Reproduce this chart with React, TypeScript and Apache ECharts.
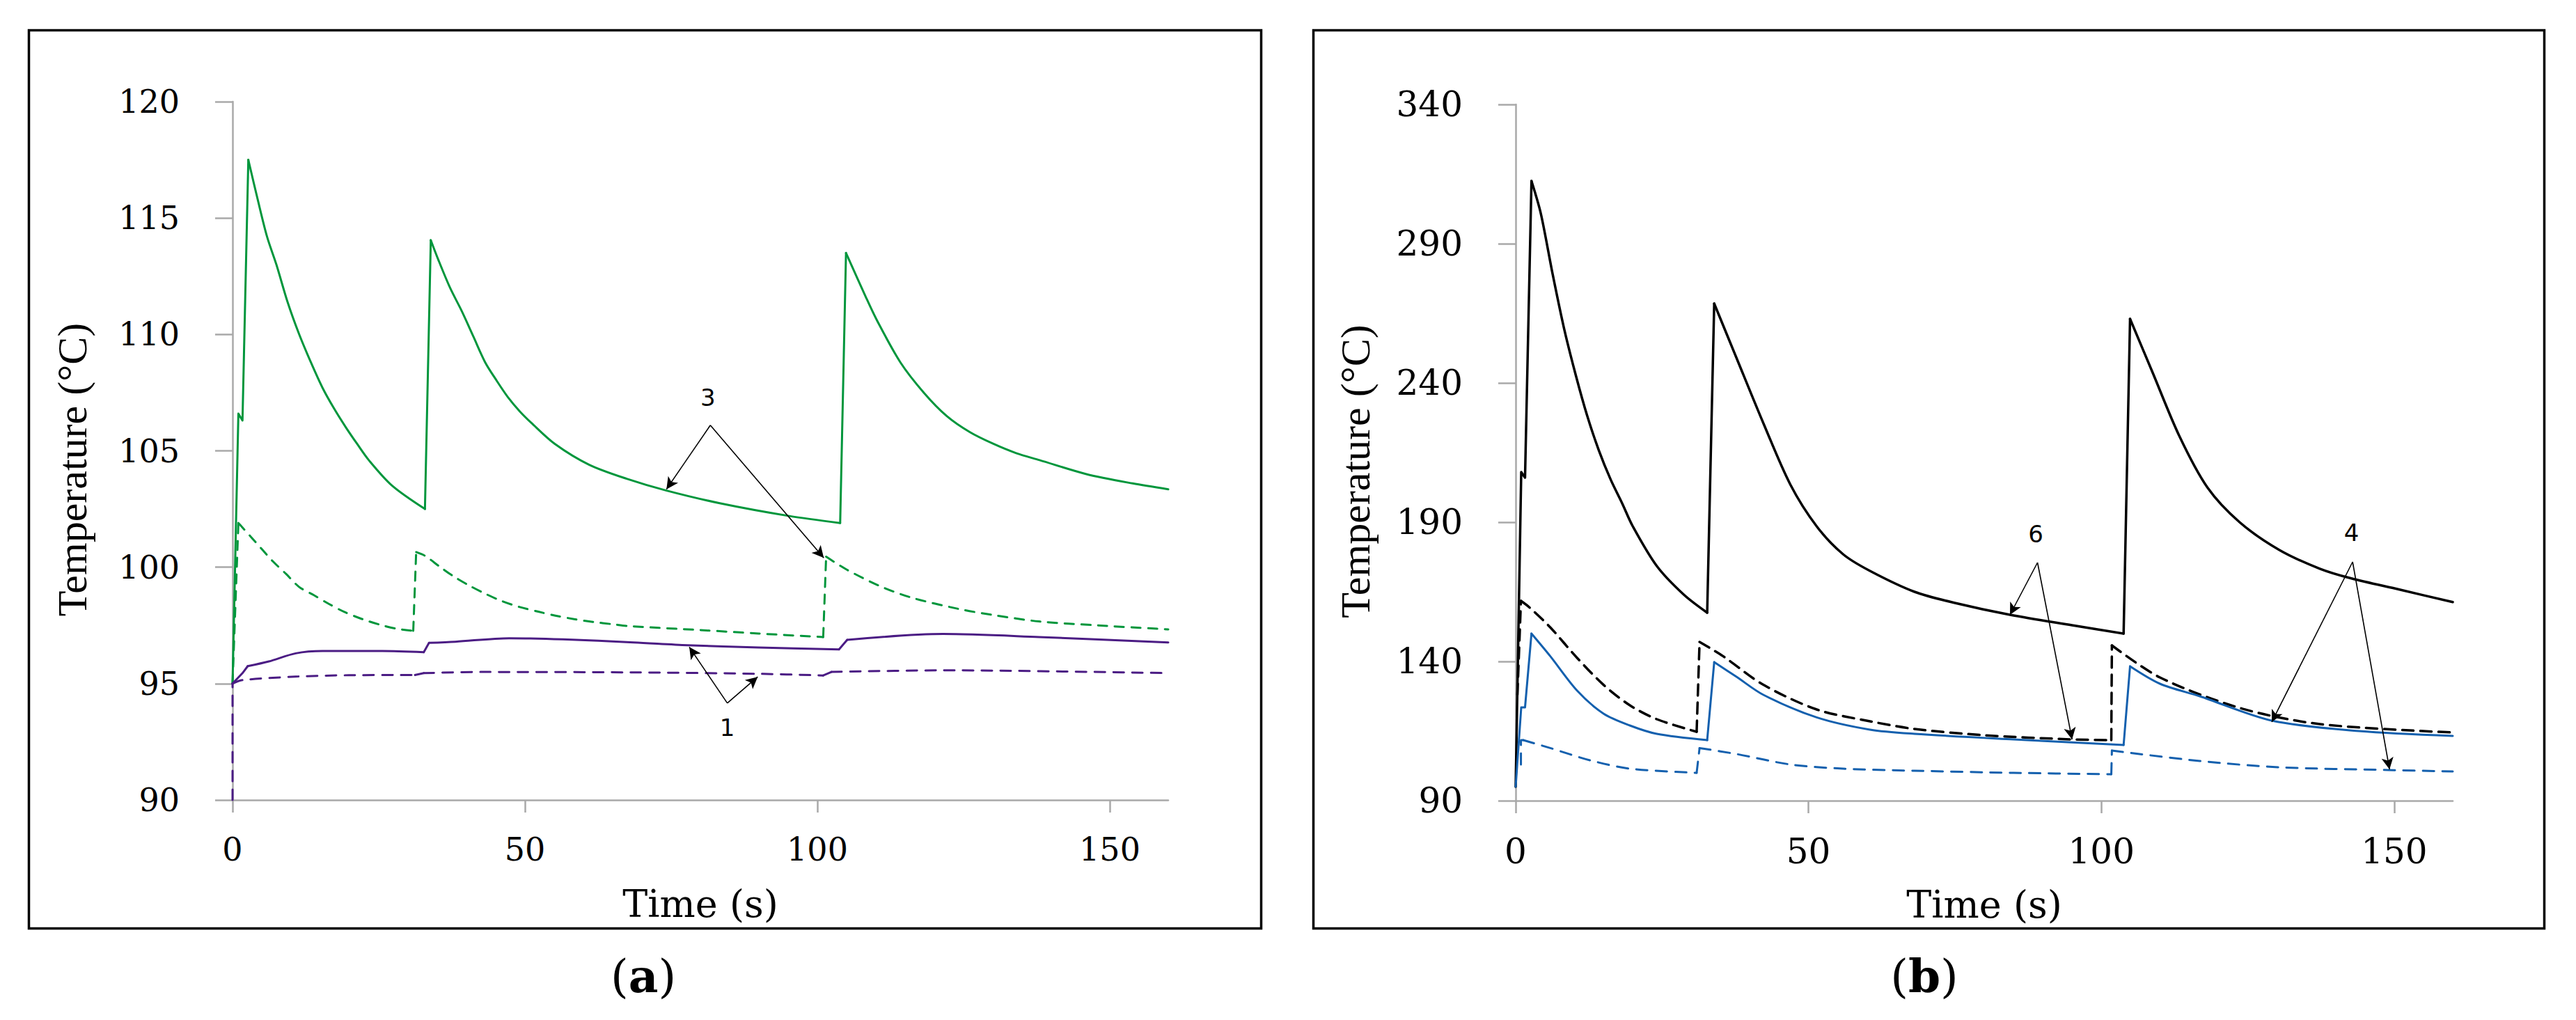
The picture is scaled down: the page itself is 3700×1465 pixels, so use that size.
import React, { useEffect, useRef } from "react";
import * as echarts from "echarts";

// ---------- Panel (a) data ----------
const greenSolidT = [0, 1.0, 1.7, 2.7, 4.3, 5.9, 7.5, 9.4, 11.4, 13.4, 15.4, 17.4, 19.4, 21.3, 23.3, 27.3, 32.9, 33.9, 35.2, 37.2, 39.2, 41.2, 43.2, 45.2, 47.1, 49.1, 51.1, 55.1, 61.0, 67.4, 74.1, 83.3, 95.2, 103.9, 104.9, 108.3, 110.2, 114.2, 118.2, 122.1, 126.1, 130.1, 134.0, 138.0, 146.0, 153.9, 160];
const greenSolidV = [95.0, 106.6, 106.3, 117.5, 115.8, 114.2, 113.0, 111.4, 110.0, 108.8, 107.7, 106.8, 106.0, 105.3, 104.6, 103.5, 102.5, 114.05, 113.2, 112.0, 111.0, 109.9, 108.8, 108.0, 107.3, 106.7, 106.2, 105.3, 104.4, 103.8, 103.3, 102.75, 102.2, 101.9, 113.5, 111.6, 110.6, 108.8, 107.5, 106.5, 105.8, 105.3, 104.9, 104.6, 104.0, 103.6, 103.35];
const greenSolidDecayStarts = [3, 17, 34];

const greenDashT = [0, 1.0, 1.5, 3.15, 5.1, 6.9, 9.2, 11.4, 13.9, 16.5, 19.2, 22.2, 25.2, 28.2, 30.9, 31.4, 32.9, 35.6, 37.9, 40.65, 43.4, 46.1, 49.1, 52.3, 55.2, 58.4, 61.6, 65.0, 67.8, 80, 90, 101.0, 101.5, 105, 110.6, 116, 124.3, 130, 137.9, 148, 160];
const greenDashV = [95.0, 101.9, 101.76, 101.3, 100.75, 100.25, 99.7, 99.15, 98.8, 98.42, 98.07, 97.77, 97.53, 97.35, 97.27, 100.65, 100.49, 99.99, 99.59, 99.19, 98.84, 98.54, 98.29, 98.09, 97.92, 97.77, 97.65, 97.55, 97.47, 97.3, 97.15, 97.0, 100.45, 99.9, 99.2, 98.7, 98.2, 97.95, 97.67, 97.5, 97.33];
const greenDashDecayStarts = [1, 15, 32];

const purpleSolidT = [0, 1.7, 2.6, 6.2, 10.8, 15.4, 25.6, 32.7, 33.6, 38.1, 47.3, 56.5, 68.6, 77.8, 90, 103.7, 105.1, 121.5, 137.9, 160];
const purpleSolidV = [95.0, 95.45, 95.75, 95.95, 96.3, 96.4, 96.4, 96.35, 96.75, 96.8, 96.95, 96.9, 96.77, 96.65, 96.55, 96.47, 96.88, 97.13, 97.0, 96.77];
const purpleSolidDecayStarts = [2, 8, 16];

const purpleDashT = [0, 0, 1.7, 10.8, 19.9, 31.2, 32.7, 42.7, 68.6, 90, 101.0, 102.4, 121.5, 160];
const purpleDashV = [90, 95.0, 95.15, 95.3, 95.36, 95.37, 95.45, 95.5, 95.48, 95.42, 95.35, 95.5, 95.57, 95.45];
const purpleDashDecayStarts = [1, 6, 11];

// annotations (a): label position, arrow start (apex), arrow heads
const annotLabelsA = ["3", "1"];
const annotLabelPosA = [[81.3, 107.3], [84.6, 93.1]];
const annotApexA = [[81.7, 106.1], [84.6, 94.16]];
const annotHeadsA = [[[74.2, 103.35], [101.1, 100.4]], [[78.1, 96.57], [89.8, 95.29]]];

// ---------- Panel (b) data ----------
const blackSolidT = [0, 0.95, 1.6, 2.7, 4.3, 6.3, 8.3, 10.3, 12.2, 14.2, 16.2, 18.2, 20.0, 24.1, 28.7, 32.7, 33.9, 37.7, 42.3, 46.9, 51.4, 55.9, 60.5, 68.1, 75, 84.4, 95, 103.8, 104.9, 108.7, 113.3, 118.1, 123.6, 130.4, 137.3, 142.7, 150.9, 160];
const blackSolidV = [95, 208, 206, 312.5, 300.8, 279.2, 259.2, 242.5, 228.3, 215.8, 205.4, 196.7, 188.5, 174.25, 164, 157.5, 268.5, 249, 225.5, 203.5, 188.5, 178.5, 172.5, 165, 161, 156.75, 153, 150, 263, 244, 221, 202.5, 190, 180, 173.3, 169.8, 165.8, 161.3];
const blackSolidDecayStarts = [3, 16, 28];

const blackDashT = [0.3, 0.9, 2.3, 5.9, 10.5, 15.0, 19.5, 24.1, 30.9, 31.4, 35.4, 42.3, 51.4, 60.5, 68.1, 80, 95, 101.7, 101.8, 110, 123.7, 137.3, 160];
const blackDashV = [128, 161.75, 159.5, 152.25, 141.25, 131.6, 124.25, 119.25, 114.75, 147, 141.9, 131.6, 122.75, 118.5, 115.75, 113.5, 112, 111.75, 145.75, 134.25, 123.25, 117.5, 114.5];
const blackDashDecayStarts = [1, 9, 18];

const blueSolidT = [0, 0.95, 1.6, 2.7, 5.9, 10.5, 15.0, 19.5, 24.1, 32.7, 33.9, 37.7, 42.3, 51.4, 60.5, 68.1, 85, 103.8, 104.9, 110, 116.8, 129.1, 144, 160];
const blueSolidV = [95, 123.5, 123.5, 150, 141.9, 129.5, 121.25, 117, 114, 111.75, 139.75, 134.5, 128, 119.9, 115.5, 114, 112, 110, 138.25, 132, 127.5, 118.75, 115, 113.25];
const blueSolidDecayStarts = [3, 10, 18];

const blueDashT = [0.9, 0.9, 1.3, 5.9, 12.7, 19.5, 30.9, 31.4, 37.7, 46.9, 55.9, 68.1, 85, 101.7, 101.8, 116.8, 130.4, 149, 160];
const blueDashV = [103, 111.75, 111.75, 108.9, 104.5, 101.5, 100, 108.9, 106.75, 103, 101.5, 100.75, 100, 99.5, 108, 104.25, 102, 101, 100.5];
const blueDashDecayStarts = [2, 7, 14];

const annotLabelsB = ["6", "4"];
const annotLabelPosB = [[88.8, 185.75], [142.7, 186.25]];
const annotApexB = [[89.1, 175.5], [142.9, 175.75]];
const annotHeadsB = [[[84.4, 156.75], [95.0, 112]], [[129.1, 118.25], [149.2, 101.25]]];

// ---------- Axes ticks / labels ----------
const xTicks = [0, 50, 100, 150];
const yTicksA = [90, 95, 100, 105, 110, 115, 120];
const yTicksB = [90, 140, 190, 240, 290, 340];
const xTitle = "Time (s)";
const yTitle = "Temperature (°C)";
const panelLetters = ["a", "b"];

const pairs = (t: number[], v: number[]) => t.map((x, i) => [x, v[i]]);

const AXIS_GRAY = "#A9A9A9";
const TICK_FONT = "DejaVu Serif";

function makeXAxis(gridIndex: number) {
  return {
    type: "value",
    gridIndex,
    min: 0,
    max: 160,
    interval: 50,
    axisLine: { show: true, onZero: false, lineStyle: { color: AXIS_GRAY, width: 2.5 } },
    axisTick: { show: true, length: 18, customValues: xTicks, lineStyle: { color: AXIS_GRAY, width: 2.5 } },
    axisLabel: {
      customValues: xTicks,
      margin: 48,
      color: "#000",
      fontFamily: TICK_FONT,
      fontSize: gridIndex === 0 ? 46 : 50,
    },
    splitLine: { show: false },
    name: xTitle,
    nameLocation: "middle",
    nameGap: 122,
    nameTextStyle: { color: "#000", fontFamily: TICK_FONT, fontSize: 54 },
  };
}

function makeYAxis(gridIndex: number, min: number, max: number, ticks: number[]) {
  return {
    type: "value",
    gridIndex,
    min,
    max,
    axisLine: { show: true, onZero: false, lineStyle: { color: AXIS_GRAY, width: 2.5 } },
    axisTick: { show: true, length: 25, customValues: ticks, lineStyle: { color: AXIS_GRAY, width: 2.5 } },
    axisLabel: {
      customValues: ticks,
      margin: 76,
      color: "#000",
      fontFamily: TICK_FONT,
      fontSize: gridIndex === 0 ? 46 : 50,
    },
    splitLine: { show: false },
    name: yTitle,
    nameLocation: "middle",
    nameGap: 200,
    nameTextStyle: {
      color: "#000",
      fontFamily: "Liberation Serif",
      fontSize: 60,
      padding: [0, 54, 0, 0],
    },
  };
}

// Split a curve into straight rising pieces and smooth decaying pieces.
function curveSeries(
  name: string, t: number[], v: number[], decayStarts: number[],
  color: string, idx: number, dash: any, width: number, extra: any = null
) {
  const pts = pairs(t, v);
  const out: any[] = [];
  const base = (data: number[][], smooth: boolean, id: string) => ({
    name: name + "-" + id,
    type: "line",
    xAxisIndex: idx,
    yAxisIndex: idx,
    data,
    showSymbol: false,
    symbol: "none",
    smooth: smooth ? 0.3 : false,
    lineStyle: { color, width, type: dash, cap: "round", join: "round" },
    itemStyle: { color },
    emphasis: { disabled: true },
    silent: true,
    z: 2,
  });
  decayStarts.forEach((s, k) => {
    const riseFrom = k === 0 ? 0 : s - 1;
    out.push(base(pts.slice(riseFrom, s + 1), false, "rise" + k));
    const end = k + 1 < decayStarts.length ? decayStarts[k + 1] - 1 : pts.length - 1;
    out.push(base(pts.slice(s, end + 1), true, "decay" + k));
  });
  if (extra) Object.assign(out[out.length - 1], extra);
  return out;
}

function annotations(labels: string[], labelPos: number[][], apex: number[][], heads: number[][][]) {
  const lines: any[] = [];
  heads.forEach((hs, i) => {
    hs.forEach((h) => {
      lines.push([{ coord: apex[i] }, { coord: h }]);
    });
  });
  return {
    markLine: {
      silent: true,
      animation: false,
      symbol: ["none", "arrow"],
      symbolSize: [13, 17],
      lineStyle: { color: "#000", width: 1.6, type: "solid" },
      label: { show: false },
      emphasis: { disabled: true },
      data: lines,
    },
    markPoint: {
      silent: true,
      animation: false,
      symbol: "circle",
      symbolSize: 1,
      itemStyle: { color: "rgba(0,0,0,0)" },
      label: {
        show: true,
        position: "inside",
        color: "#000",
        fontFamily: "DejaVu Sans",
        fontSize: 34,
        formatter: (p: any) => p.name,
      },
      emphasis: { disabled: true },
      data: labels.map((l, i) => ({ name: l, coord: labelPos[i] })),
    },
  };
}

const GREEN = "#00963C";
const PURPLE = "#4B1C84";
const BLUE = "#1460AE";
const BLACK = "#000000";

const option: any = {
  animation: false,
  backgroundColor: "#ffffff",
  grid: [
    { left: 334, top: 146, width: 1344, height: 1003, outerBoundsMode: "none", containLabel: false },
    { left: 2177, top: 150, width: 1346, height: 1000, outerBoundsMode: "none", containLabel: false },
  ],
  xAxis: [makeXAxis(0), makeXAxis(1)],
  yAxis: [makeYAxis(0, 90, 120, yTicksA), makeYAxis(1, 90, 340, yTicksB)],
  series: [
    ...curveSeries("green-solid", greenSolidT, greenSolidV, greenSolidDecayStarts, GREEN, 0, "solid", 3),
    ...curveSeries("green-dash", greenDashT, greenDashV, greenDashDecayStarts, GREEN, 0, [13, 11], 3),
    ...curveSeries("purple-solid", purpleSolidT, purpleSolidV, purpleSolidDecayStarts, PURPLE, 0, "solid", 3),
    ...curveSeries("purple-dash", purpleDashT, purpleDashV, purpleDashDecayStarts, PURPLE, 0, [15, 12], 3,
      annotations(annotLabelsA, annotLabelPosA, annotApexA, annotHeadsA)),
    ...curveSeries("black-solid", blackSolidT, blackSolidV, blackSolidDecayStarts, BLACK, 1, "solid", 3.5),
    ...curveSeries("black-dash", blackDashT, blackDashV, blackDashDecayStarts, BLACK, 1, [16, 10], 3.5),
    ...curveSeries("blue-solid", blueSolidT, blueSolidV, blueSolidDecayStarts, BLUE, 1, "solid", 3),
    ...curveSeries("blue-dash", blueDashT, blueDashV, blueDashDecayStarts, BLUE, 1, [16, 12], 3,
      annotations(annotLabelsB, annotLabelPosB, annotApexB, annotHeadsB)),
  ],
  graphic: [
    {
      type: "rect",
      silent: true,
      z: 100,
      shape: { x: 41.5, y: 43.5, width: 1770, height: 1290 },
      style: { fill: "none", stroke: "#000", lineWidth: 3.5 },
    },
    {
      type: "rect",
      silent: true,
      z: 100,
      shape: { x: 1886.5, y: 43.5, width: 1768, height: 1290 },
      style: { fill: "none", stroke: "#000", lineWidth: 3.5 },
    },
    ...panelLetters.map((l, i) => ({
      type: "text",
      silent: true,
      z: 100,
      x: i === 0 ? 924 : 2764,
      y: 1402,
      style: {
        text: "({b|" + l + "})",
        fontFamily: TICK_FONT,
        fontSize: 66,
        fill: "#000",
        textAlign: "center",
        textVerticalAlign: "middle",
        rich: { b: { fontFamily: TICK_FONT, fontSize: 66, fontWeight: "bold", fill: "#000" } },
      },
    })),
  ],
};

export default function App() {
  const ref = useRef<HTMLDivElement>(null);
  useEffect(() => {
    if (!ref.current) return;
    const chart = echarts.init(ref.current, null, { renderer: "svg" });
    chart.setOption(option);
    return () => chart.dispose();
  }, []);
  return (
    <div
      ref={ref}
      style={{ position: "fixed", left: 0, top: 0, width: 3700, height: 1465, background: "#fff" }}
    />
  );
}
